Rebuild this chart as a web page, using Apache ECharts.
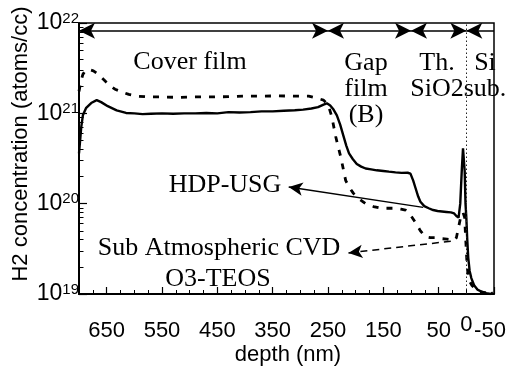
<!DOCTYPE html>
<html>
<head>
<meta charset="utf-8">
<script src="https://cdn.jsdelivr.net/npm/echarts@6/dist/echarts.min.js"></script>
<style>
  html, body { margin: 0; padding: 0; background: #fff; }
  #chart { width: 510px; height: 368px; }
</style>
</head>
<body>
<div id="chart"></div>
<script>
// depth (nm), H2 concentration (atoms/cc)
const hdpUsg = [
  [700, 3.6e20], [698, 5.0e20], [696, 7.0e20], [693, 9.5e20], [687, 1.15e21], [678, 1.3e21],
  [668, 1.4e21], [660, 1.33e21], [648, 1.2e21], [632, 1.08e21], [615, 1.01e21], [600, 1.0e21],
  [585, 0.98e21], [570, 0.99e21], [550, 1.0e21], [530, 0.99e21], [510, 1.0e21], [490, 1.0e21],
  [470, 1.01e21], [450, 1.0e21], [430, 1.03e21], [410, 1.02e21], [390, 1.03e21], [370, 1.05e21],
  [350, 1.05e21], [330, 1.07e21], [310, 1.08e21], [295, 1.1e21], [280, 1.13e21], [268, 1.17e21],
  [258, 1.25e21], [252, 1.29e21], [246, 1.22e21], [240, 1.1e21], [234, 9.5e20], [228, 7.5e20],
  [222, 5.6e20], [217, 4.4e20], [212, 3.6e20], [205, 3.1e20], [198, 2.75e20], [190, 2.57e20],
  [182, 2.45e20], [172, 2.4e20], [162, 2.34e20], [150, 2.3e20], [140, 2.26e20], [128, 2.22e20],
  [117, 2.19e20], [106, 2.2e20], [101, 2.15e20], [96, 1.8e20], [92, 1.5e20], [87, 1.2e20],
  [83, 1.05e20], [76, 9.4e19], [68, 8.9e19], [60, 8.5e19], [52, 8.3e19], [44, 8.2e19],
  [36, 8.1e19], [28, 8.0e19], [22, 7.8e19], [18, 7.3e19], [14, 7.0e19], [11, 1.0e20],
  [8, 2.5e20], [6, 4.1e20], [4.5, 4.0e20], [3, 2.3e20], [1.5, 1.0e20], [0, 7.0e19],
  [-1.5, 4.2e19], [-3.5, 2.5e19], [-6, 1.8e19], [-9, 1.5e19], [-14, 1.25e19], [-20, 1.12e19],
  [-28, 1.06e19], [-36, 1.02e19], [-44, 1.0e19], [-48, 1.04e19]
];
const saCvd = [
  [700, 1.75e21], [697, 2.2e21], [693, 2.7e21], [688, 3.0e21], [682, 3.05e21], [674, 2.95e21],
  [665, 2.7e21], [655, 2.35e21], [645, 2.05e21], [635, 1.85e21], [622, 1.72e21], [610, 1.62e21],
  [595, 1.55e21], [575, 1.52e21], [550, 1.52e21], [520, 1.5e21], [490, 1.52e21], [460, 1.52e21],
  [430, 1.53e21], [400, 1.55e21], [370, 1.55e21], [340, 1.56e21], [310, 1.55e21], [285, 1.55e21],
  [270, 1.47e21], [258, 1.4e21], [250, 1.25e21], [247, 1.1e21], [243, 9.1e20], [236, 5.5e20],
  [227, 3.3e20], [218, 1.8e20], [211, 1.5e20], [204, 1.3e20], [194, 1.13e20], [182, 1.0e20],
  [168, 9.3e19], [153, 8.9e19], [140, 8.9e19], [128, 8.9e19], [118, 8.7e19], [110, 8.5e19],
  [101, 7.5e19], [92, 6.2e19], [83, 5.0e19], [74, 4.3e19], [65, 4.2e19], [56, 4.2e19],
  [45, 4.1e19], [35, 4.05e19], [27, 4.0e19], [21, 3.95e19], [18, 4.2e19], [14, 5.5e19],
  [10, 7.2e19], [6, 8.0e19], [3, 7.0e19], [1.5, 4.5e19], [0, 3.0e19], [-1.5, 2.0e19],
  [-4, 1.5e19], [-7, 1.35e19], [-10, 1.25e19], [-15, 1.15e19], [-22, 1.08e19], [-30, 1.04e19],
  [-40, 1.02e19], [-48, 1.03e19]
];
const xLabels = [650, 550, 450, 350, 250, 150, 50, 0, -50];
const xMajorTicks = [650, 550, 450, 350, 250, 150, 50, -50];
const xMinorTicks = [];
for (let d = -50; d <= 700; d += 25) xMinorTicks.push(d);
const yMinorTicks = [];
[1e19, 1e20, 1e21].forEach(function (p) {
  for (let k = 2; k <= 9; k++) yMinorTicks.push(k * p);
});
// layer boundaries (nm) for the arrows along the top
const layerBounds = [700, 250, 100, 0, -50];
const arrowLevel = 8.2e21;
const interfaceDepth = 0;
// annotation arrows: [head, tail] in depth/concentration
const hdpArrow = [[321, 1.53e20], [78, 9.1e19]];
const saArrow = [[213, 2.85e19], [23, 3.87e19]];

const chart = echarts.init(document.getElementById('chart'));

const layerLines = [];
for (let i = 0; i < layerBounds.length - 1; i++) {
  const last = i === layerBounds.length - 2;
  layerLines.push([
    { coord: [layerBounds[i], arrowLevel] },
    { coord: [layerBounds[i + 1], arrowLevel], symbol: last ? 'none' : 'arrow' }
  ]);
}

const sansFont = 'Liberation Sans';
const serifFont = 'Liberation Serif';

function serifText(text, x, y, lineHeight) {
  return {
    type: 'text',
    x: x,
    y: y,
    silent: true,
    style: {
      text: text,
      fill: '#000',
      font: '26px "' + serifFont + '"',
      align: 'center',
      verticalAlign: 'middle',
      lineHeight: lineHeight || 26
    }
  };
}

chart.setOption({
  animation: false,
  grid: {
    left: 79,
    right: 16,
    top: 23,
    bottom: 74,
    show: true,
    borderColor: '#000',
    borderWidth: 1.5,
  },
  xAxis: [
    {
      type: 'value',
      min: -50,
      max: 700,
      inverse: true,
      interval: 100,
      position: 'bottom',
      axisLine: { onZero: false, lineStyle: { color: '#000', width: 2 } },
      axisTick: {
        inside: true,
        length: 7,
        customValues: xMajorTicks,
        lineStyle: { color: '#000', width: 1.2 },
      },
      axisLabel: {
        customValues: xLabels,
        margin: 20,
        color: '#000',
        fontFamily: sansFont,
        fontSize: 22,
        formatter: function (v) {
          if (v === 0) return '{z|0}';
          if (v === -50) return '{m|-50}';
          return '{n|' + v + '}';
        },
        rich: {
          z: { fontFamily: sansFont, fontSize: 22, padding: [0, 0, 0, 0] },
          n: { fontFamily: sansFont, fontSize: 22, padding: [6, 0, 0, 0] },
          m: { fontFamily: sansFont, fontSize: 22, padding: [6, 8, 0, 0] },
        },
      },
      splitLine: { show: false },
    },
    {
      type: 'value',
      min: -50,
      max: 700,
      inverse: true,
      position: 'bottom',
      axisLine: { show: false, onZero: false },
      axisTick: {
        inside: true,
        length: 4,
        customValues: xMinorTicks,
        lineStyle: { color: '#000', width: 1 },
      },
      axisLabel: { show: false },
      splitLine: { show: false },
    },
  ],
  yAxis: [
    {
      type: 'log',
      logBase: 10,
      min: 1e19,
      max: 1e22,
      position: 'left',
      axisLine: { onZero: false, lineStyle: { color: '#000', width: 2 } },
      axisTick: { inside: true, length: 8, lineStyle: { color: '#000', width: 1.2 } },
      axisLabel: {
        margin: 0,
        formatter: function (v) {
          return '{b|10}{s|' + Math.round(Math.log10(v)) + '}';
        },
        rich: {
          b: { fontFamily: sansFont, fontSize: 23, color: '#000', lineHeight: 24 },
          s: { fontFamily: sansFont, fontSize: 15, color: '#000', verticalAlign: 'top', lineHeight: 15 },
        },
      },
      splitLine: { show: false },
    },
    {
      type: 'log',
      logBase: 10,
      min: 1e19,
      max: 1e22,
      position: 'left',
      axisLine: { show: false, onZero: false },
      axisTick: {
        inside: true,
        length: 4.5,
        customValues: yMinorTicks,
        lineStyle: { color: '#000', width: 1 },
      },
      axisLabel: { show: false },
      splitLine: { show: false },
    },
  ],
  graphic: [
    serifText('Cover film', 190, 62),
    serifText('Gap\nfilm\n(B)', 366, 89),
    serifText('Th.\nSiO2', 437, 76),
    serifText('Si\nsub.', 485, 76),
    serifText('HDP-USG', 225, 185),
    serifText('Sub Atmospheric CVD', 219, 248),
    serifText('O3-TEOS', 218, 279),
    {
      type: 'text',
      x: 21,
      y: 144,
      rotation: Math.PI / 2,
      silent: true,
      style: {
        text: 'H2 concentration (atoms/cc)',
        fill: '#000',
        font: '22px "' + sansFont + '"',
        align: 'center',
        verticalAlign: 'middle',
      },
    },
    {
      type: 'text',
      x: 288,
      y: 355,
      silent: true,
      style: {
        text: 'depth (nm)',
        fill: '#000',
        font: '22px "' + sansFont + '"',
        align: 'center',
        verticalAlign: 'middle',
      },
    },
  ],
  series: [
    {
      name: 'interface',
      type: 'line',
      data: [],
      markLine: {
        silent: true,
        symbol: ['none', 'none'],
        label: { show: false },
        lineStyle: { color: '#222', width: 1, type: [1.5, 2.5] },
        data: [[{ coord: [interfaceDepth, 1e19] }, { coord: [interfaceDepth, 1e22] }]],
      },
    },
    {
      name: 'HDP-USG',
      type: 'line',
      xAxisIndex: 0,
      yAxisIndex: 0,
      data: hdpUsg,
      showSymbol: false,
      lineStyle: { color: '#000', width: 2.4 },
      markLine: {
        silent: true,
        symbol: ['arrow', 'arrow'],
        symbolSize: [12, 16],
        label: { show: false },
        lineStyle: { color: '#000', width: 1.5, type: 'solid' },
        data: layerLines,
      },
    },
    {
      name: 'HDP-USG label',
      type: 'line',
      data: [],
      markLine: {
        silent: true,
        symbol: ['arrow', 'none'],
        symbolSize: [10, 14],
        label: { show: false },
        lineStyle: { color: '#000', width: 1.5, type: 'solid' },
        data: [[{ coord: hdpArrow[0] }, { coord: hdpArrow[1] }]],
      },
    },
    {
      name: 'Sub Atmospheric CVD O3-TEOS',
      type: 'line',
      xAxisIndex: 0,
      yAxisIndex: 0,
      data: saCvd,
      showSymbol: false,
      lineStyle: { color: '#000', width: 2.8, type: [6, 8] },
      markLine: {
        silent: true,
        symbol: ['arrow', 'none'],
        symbolSize: [10, 14],
        label: { show: false },
        lineStyle: { color: '#000', width: 1.5, type: [7, 5] },
        data: [[{ coord: saArrow[0] }, { coord: saArrow[1] }]],
      },
    },
  ],
});
</script>
</body>
</html>
